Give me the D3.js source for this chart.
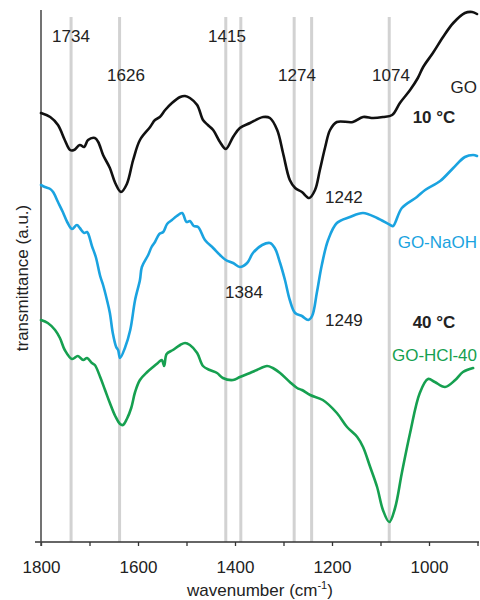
<!DOCTYPE html>
<html>
<head>
<meta charset="utf-8">
<script src="https://cdn.jsdelivr.net/npm/d3@7/dist/d3.min.js"></script>
<style>
  html, body { margin: 0; padding: 0; background: #fff; }
  svg { display: block; font-family: "Liberation Sans", Arial, sans-serif; }
</style>
</head>
<body>
<svg id="chart" width="480" height="600"></svg>
<script>
// ---- data (wavenumber cm^-1, transmittance a.u.) ----
const seriesNames = ["GO", "GO-NaOH", "GO-HCl-40"];

const goWn  = [1800,1781,1765,1751,1740,1732,1720,1711,1703,1689,1682,1672,1658,1647,1635,1623,1610,1596,1575,1565,1555,1544,1530,1513,1503,1493,1478,1466,1456,1445,1431,1419,1404,1390,1369,1342,1328,1313,1301,1287,1276,1262,1247,1235,1225,1214,1204,1190,1157,1136,1115,1095,1076,1060,1039,1023,1012,992,971,950,926,911,901];
const goVal = [429,425,417,402,392,392,397,395,402,404,400,387,374,359,350,358,382,402,415,422,425,432,439,445,446,444,437,422,417,412,400,393,405,414,419,425,424,412,389,362,354,350,344,352,372,395,412,420,420,425,424,425,427,439,452,464,475,489,505,519,529,530,528];

const naohWn  = [1800,1792,1781,1775,1765,1755,1746,1736,1726,1720,1711,1705,1695,1687,1678,1672,1664,1658,1652,1645,1641,1637,1627,1616,1606,1596,1592,1579,1572,1565,1556,1548,1540,1530,1520,1509,1500,1493,1485,1476,1462,1445,1431,1419,1404,1390,1375,1363,1344,1328,1318,1307,1297,1287,1276,1262,1249,1241,1231,1221,1208,1190,1163,1136,1107,1080,1074,1056,1025,1008,977,950,926,909,901];
const naohVal = [357,355,353,350,340,330,320,313,317,314,309,310,296,285,266,257,242,229,209,195,192,184,194,212,242,262,275,287,295,300,308,310,318,322,326,329,320,321,316,315,302,294,287,282,279,275,279,289,297,299,294,279,262,242,229,226,222,226,250,277,302,319,325,329,324,317,316,334,345,352,361,374,385,387,386];

const hclWn  = [1800,1786,1771,1761,1751,1736,1724,1713,1705,1695,1689,1678,1668,1658,1647,1637,1631,1623,1614,1606,1596,1581,1569,1559,1551,1546,1541,1528,1513,1503,1493,1478,1466,1452,1437,1425,1404,1390,1369,1355,1334,1322,1307,1287,1272,1262,1245,1219,1190,1169,1148,1136,1122,1107,1095,1082,1070,1056,1039,1019,1002,988,967,946,930,909];
const hclVal = [222,219,212,204,192,183,186,182,184,179,177,165,152,139,126,118,117,123,134,150,162,170,175,179,182,176,188,192,197,199,197,189,176,172,169,164,162,165,169,172,176,174,169,160,154,152,147,142,129,115,105,95,76,55,32,20,34,69,109,149,163,160,155,162,170,174];

const peakLines = [1738, 1638, 1419, 1388, 1278, 1242, 1082];
const peakLabels = ["1734", "1626", "1415", "1384", "1274", "1242", "1249", "1074"];
const tempLabels = ["10 °C", "40 °C"];
const xTicks = [1800, 1700, 1600, 1500, 1400, 1300, 1200, 1100, 1000, 900];
const xTickLabels = [1800, 1600, 1400, 1200, 1000];

// ---- drawing ----
const svg = d3.select("#chart");
const x = d3.scaleLinear().domain([1800, 900]).range([41, 477.5]);
const y = d3.scaleLinear().domain([0, 530]).range([542, 12]);

// peak reference lines
svg.append("g").selectAll("line").data(peakLines).join("line")
  .attr("x1", d => x(d)).attr("x2", d => x(d))
  .attr("y1", 17).attr("y2", 542)
  .attr("stroke", "#d2d2d2").attr("stroke-width", 3);

// axes
const xAxis = d3.axisBottom(x).tickValues(xTicks).tickSize(4)
  .tickFormat(d => xTickLabels.includes(d) ? d : "");
const gx = svg.append("g").attr("transform", "translate(0,542)").call(xAxis);
gx.select(".domain").remove();
gx.selectAll(".tick line").attr("stroke", "#333").attr("stroke-width", 1.3);
gx.selectAll(".tick text").attr("font-size", 17).attr("fill", "#222").attr("dy", 0).attr("y", 31)
  .attr("font-family", "Liberation Sans, Arial, sans-serif");
svg.append("line").attr("x1", 35).attr("x2", 479).attr("y1", 542).attr("y2", 542)
  .attr("stroke", "#333").attr("stroke-width", 1.5);
svg.append("line").attr("x1", 41).attr("x2", 41).attr("y1", 10).attr("y2", 546)
  .attr("stroke", "#444").attr("stroke-width", 1.5);

// series
const line = d3.line().x(d => x(d[0])).y(d => y(d[1])).curve(d3.curveCatmullRom.alpha(0.5));
const series = [
  { name: seriesNames[0], wn: goWn, val: goVal, color: "#111111" },
  { name: seriesNames[1], wn: naohWn, val: naohVal, color: "#1aa3e0" },
  { name: seriesNames[2], wn: hclWn, val: hclVal, color: "#16a050" }
];
series.forEach(s => {
  svg.append("path").datum(d3.zip(s.wn, s.val))
    .attr("d", line).attr("fill", "none")
    .attr("stroke", s.color).attr("stroke-width", 2.6)
    .attr("stroke-linejoin", "round").attr("stroke-linecap", "round");
});

// peak labels
const labelLayout = [
  [71, 42, "middle"], [126, 81, "middle"], [227, 42, "middle"], [244, 298, "middle"],
  [297, 81, "middle"], [325, 203, "start"], [325, 326, "start"], [391, 81, "middle"]
];
svg.append("g").selectAll("text").data(peakLabels).join("text")
  .attr("x", (d, i) => labelLayout[i][0]).attr("y", (d, i) => labelLayout[i][1])
  .attr("text-anchor", (d, i) => labelLayout[i][2])
  .attr("font-size", 17).attr("fill", "#222").text(d => d);

// series names
const nameLayout = [[477, 93], [477, 248], [477, 361]];
svg.append("g").selectAll("text").data(series).join("text")
  .attr("x", (d, i) => nameLayout[i][0]).attr("y", (d, i) => nameLayout[i][1])
  .attr("text-anchor", "end").attr("font-size", 17)
  .attr("fill", d => d.color === "#111111" ? "#222" : d.color).text(d => d.name);

// temperatures
const tempLayout = [[434, 123], [434, 328]];
svg.append("g").selectAll("text").data(tempLabels).join("text")
  .attr("x", (d, i) => tempLayout[i][0]).attr("y", (d, i) => tempLayout[i][1])
  .attr("text-anchor", "middle").attr("font-size", 17).attr("font-weight", "bold")
  .attr("fill", "#222").text(d => d);

// axis titles
const xt = svg.append("text").attr("x", 260).attr("y", 596).attr("text-anchor", "middle")
  .attr("font-size", 17).attr("fill", "#222");
xt.append("tspan").text("wavenumber (cm");
xt.append("tspan").attr("font-size", 11).attr("dy", -7).text("-1");
xt.append("tspan").attr("dy", 7).text(")");

svg.append("text").attr("transform", "translate(28,278) rotate(-90)")
  .attr("text-anchor", "middle").attr("font-size", 17).attr("fill", "#222")
  .text("transmittance (a.u.)");
</script>
</body>
</html>
